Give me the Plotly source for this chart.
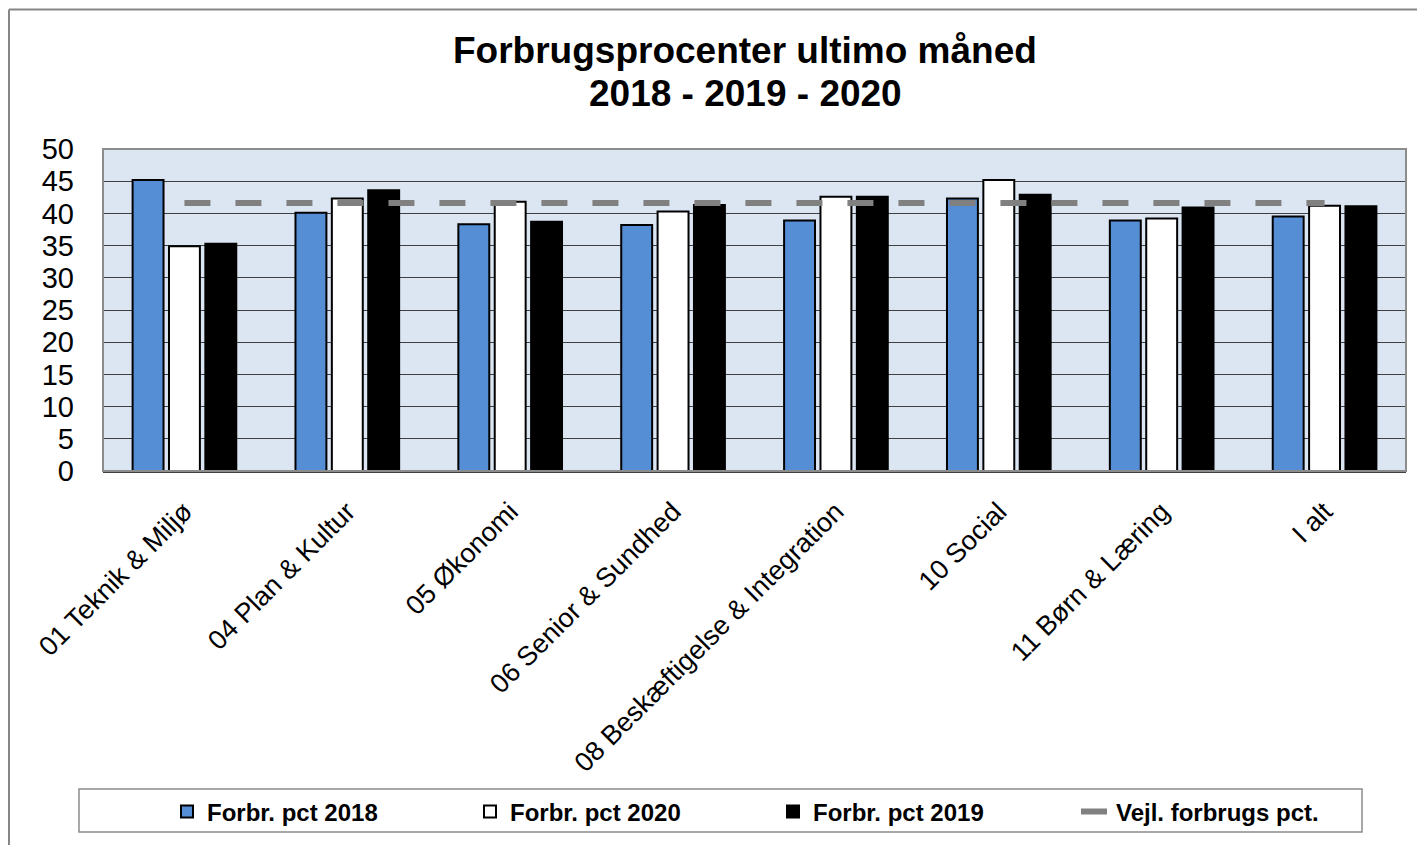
import plotly.graph_objects as go

categories = ["01 Teknik & Miljø", "04 Plan & Kultur", "05 Økonomi", "06 Senior & Sundhed",
              "08 Beskæftigelse & Integration", "10 Social", "11 Børn & Læring", "I alt"]
pct_2018 = [45.2, 40.1, 38.3, 38.2, 38.9, 42.3, 38.9, 39.5]
pct_2020 = [34.9, 42.3, 41.8, 40.3, 42.6, 45.2, 39.2, 41.2]
pct_2019 = [35.3, 43.6, 38.7, 41.3, 42.6, 42.9, 40.9, 41.1]
vejl = [41.6] * len(categories)
title_lines = ["Forbrugsprocenter ultimo måned", "2018 - 2019 - 2020"]

# page is offset by 8px body margin; figure coordinates = page - 8
W, H = 1417, 837
L, R, T, B = 95, 1398, 141, 464  # plot area in figure pixels


def px(x):
    return (x - L) / (R - L)


def py(y):
    return (B - y) / (B - T)


FONT = "Liberation Sans, Arial, sans-serif"

fig = go.Figure()
fig.add_trace(go.Bar(name="Forbr. pct 2018", x=categories, y=pct_2018,
                     marker=dict(color="#558ED5", line=dict(color="black", width=2))))
fig.add_trace(go.Bar(name="Forbr. pct 2020", x=categories, y=pct_2020,
                     marker=dict(color="white", line=dict(color="black", width=2))))
fig.add_trace(go.Bar(name="Forbr. pct 2019", x=categories, y=pct_2019,
                     marker=dict(color="black", line=dict(color="black", width=2))))
fig.add_trace(go.Scatter(name="Vejl. forbrugs pct.", x=categories, y=vejl, mode="lines",
                         line=dict(color="#808080", width=6, dash="26px,25px")))

shapes = [
    # outer chart border (left and top visible)
    dict(type="line", xref="paper", yref="paper", x0=px(1), x1=px(W + 5), y0=py(1), y1=py(1),
         line=dict(color="#868686", width=2)),
    dict(type="line", xref="paper", yref="paper", x0=px(1), x1=px(1), y0=py(1), y1=py(H + 5),
         line=dict(color="#868686", width=2)),
    # plot area frame
    dict(type="rect", xref="paper", yref="paper", x0=0, x1=1, y0=0, y1=1,
         line=dict(color="#8c8c8c", width=2), layer="above"),
    # legend box
    dict(type="rect", xref="paper", yref="paper", x0=px(71), x1=px(1354), y0=py(826), y1=py(783),
         line=dict(color="#8c8c8c", width=1.5)),
]

annotations = [
    dict(text=f"<b>{title_lines[0]}</b>", x=px(737), y=py(42), xref="paper", yref="paper",
         xanchor="center", yanchor="middle", showarrow=False,
         font=dict(family=FONT, size=37, color="black")),
    dict(text=f"<b>{title_lines[1]}</b>", x=px(737), y=py(85), xref="paper", yref="paper",
         xanchor="center", yanchor="middle", showarrow=False,
         font=dict(family=FONT, size=37, color="black")),
]

fig.update_layout(
    width=W, height=H,
    margin=dict(l=L, r=W - R, t=T, b=H - B),
    paper_bgcolor="white",
    plot_bgcolor="#DCE6F2",
    barmode="group",
    bargap=0.33,
    bargroupgap=0.15,
    font=dict(family=FONT, color="black"),
    showlegend=True,
    legend=dict(orientation="h", x=px(159), y=py(804), xanchor="left", yanchor="middle",
                xref="paper", yref="paper",
                font=dict(family=FONT, size=24, color="black", weight="bold"),
                bgcolor="rgba(0,0,0,0)", borderwidth=0,
                entrywidth=258, entrywidthmode="pixels", traceorder="normal"),
    shapes=shapes,
    annotations=annotations,
)
fig.update_xaxes(showgrid=False, tickangle=-45, tickfont=dict(family=FONT, size=27, color="black"),
                 showline=True, linecolor="#404040", linewidth=2, ticks="",
                 ticklabelstandoff=12)
fig.update_yaxes(range=[0, 50], dtick=5, showgrid=True, gridcolor="#404040", gridwidth=1,
                 tickfont=dict(family=FONT, size=29, color="black"), ticks="",
                 ticklabelstandoff=28, zeroline=False, showline=False)

fig.write_html("out.html")
